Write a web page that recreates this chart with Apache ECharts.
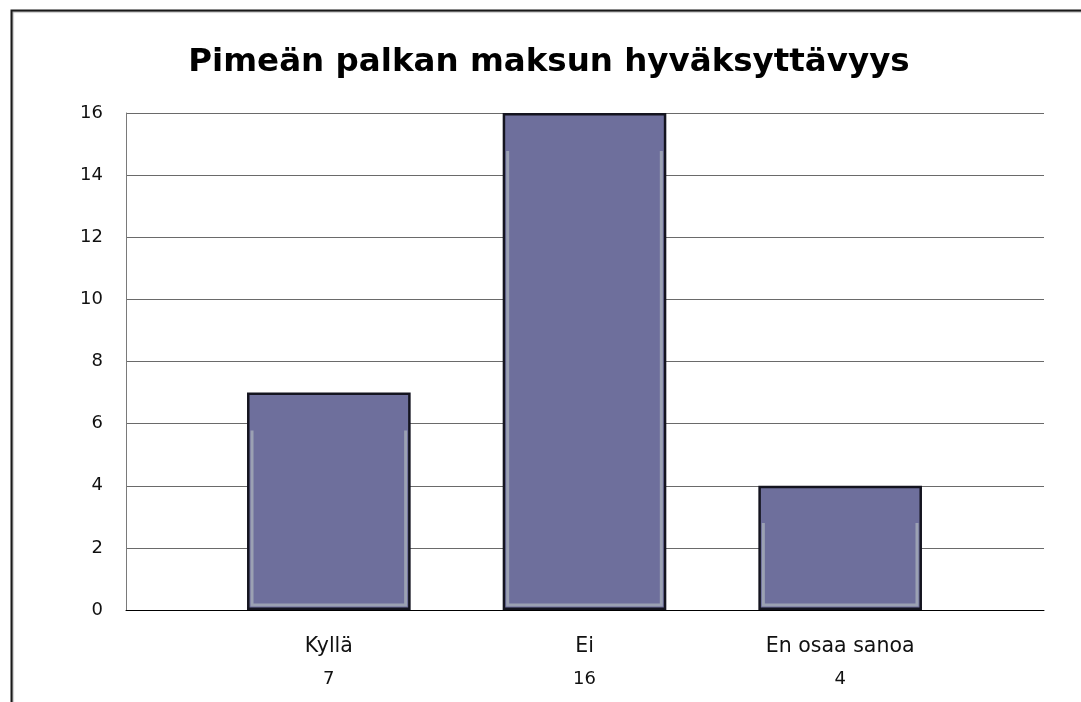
<!DOCTYPE html>
<html>
<head>
<meta charset="utf-8">
<script src="https://cdn.jsdelivr.net/npm/echarts@6/dist/echarts.min.js"></script>
<style>
  html, body { margin: 0; padding: 0; background: #fff; }
  #chart { width: 1081px; height: 702px; }
</style>
</head>
<body>
<div id="chart"></div>
<script>
// data
var categories = ['Kyllä', 'Ei', 'En osaa sanoa']
var counts = [7, 16, 4]
var yTicks = [0, 2, 4, 6, 8, 10, 12, 14, 16]

var chart = echarts.init(document.getElementById('chart'))

var option = {
  animation: false,
  // outer frame of the chart
  graphic: [{
    type: 'rect',
    left: 9,
    top: 8,
    shape: { width: 1200, height: 900 },
    style: { fill: 'none', stroke: '#1a1a1a', lineWidth: 2, shadowColor: 'rgba(0,0,0,0.35)', shadowOffsetX: 1, shadowOffsetY: 1, shadowBlur: 1 },
    z: 100
  }],
  title: {
    text: 'Pimeän palkan maksun hyväksyttävyys',
    left: 544,
    textAlign: 'center',
    top: 41,
    textStyle: {
      fontFamily: 'DejaVu Sans',
      fontWeight: 'bold',
      fontSize: 32.5,
      color: '#000'
    }
  },
  // grid 0: gridlines + y axis, grid 1: the bars
  grid: [
    { left: 126, right: 37, top: 113, bottom: 92 },
    { left: 201, right: 113, top: 113, bottom: 92 }
  ],
  xAxis: [
    {
      type: 'category',
      gridIndex: 0,
      data: [''],
      axisTick: { show: false },
      axisLabel: { show: false },
      axisLine: { lineStyle: { color: '#000', width: 1 } }
    },
    {
      type: 'category',
      gridIndex: 1,
      data: categories,
      axisTick: { show: false },
      axisLine: { show: false },
      axisLabel: {
        margin: 20,
        interval: 0,
        formatter: function(value, idx) {
          return '{a|' + value + '}\n{b|' + counts[idx] + '}'
        },
        rich: {
          a: { fontFamily: 'DejaVu Sans', fontSize: 20.5, color: '#111', lineHeight: 33 },
          b: { fontFamily: 'DejaVu Sans', fontSize: 18, color: '#111', lineHeight: 33 }
        }
      }
    }
  ],
  yAxis: [
    {
      type: 'value',
      gridIndex: 0,
      min: yTicks[0],
      max: yTicks[yTicks.length - 1],
      interval: 2,
      axisLine: { show: true, lineStyle: { color: '#7a7a7a', width: 1 } },
      axisTick: { show: false },
      splitLine: { lineStyle: { color: '#6a6a6a', width: 1 } },
      axisLabel: {
        margin: 23,
        fontFamily: 'DejaVu Sans',
        fontSize: 18,
        color: '#111'
      }
    },
    {
      type: 'value',
      gridIndex: 1,
      min: yTicks[0],
      max: yTicks[yTicks.length - 1],
      interval: 2,
      show: false
    }
  ],
  series: [
    {
      name: 'count',
      type: 'bar',
      xAxisIndex: 1,
      yAxisIndex: 1,
      data: counts,
      barWidth: '64%',
      itemStyle: {
        color: '#6e6f9c',
        borderColor: '#14141f',
        borderWidth: 2.5
      }
    },
    {
      // light inner edge on the bars
      type: 'custom',
      xAxisIndex: 1,
      yAxisIndex: 1,
      data: counts,
      z: 3,
      renderItem: function(params, api) {
        var top = api.coord([api.value(0), api.value(1)])
        var base = api.coord([api.value(0), 0])
        var w = api.size([1, 0])[0] * 0.64
        var l = top[0] - w / 2 + 5
        var r = top[0] + w / 2 - 5
        var t = top[1] + Math.min(38, (base[1] - top[1]) * 0.3)
        var b = base[1] - 5
        return {
          type: 'polyline',
          shape: { points: [[l, t], [l, b], [r, b], [r, t]] },
          style: { fill: 'none', stroke: '#9ba1b3', lineWidth: 3 }
        }
      }
    }
  ]
}

chart.setOption(option)
</script>
</body>
</html>
